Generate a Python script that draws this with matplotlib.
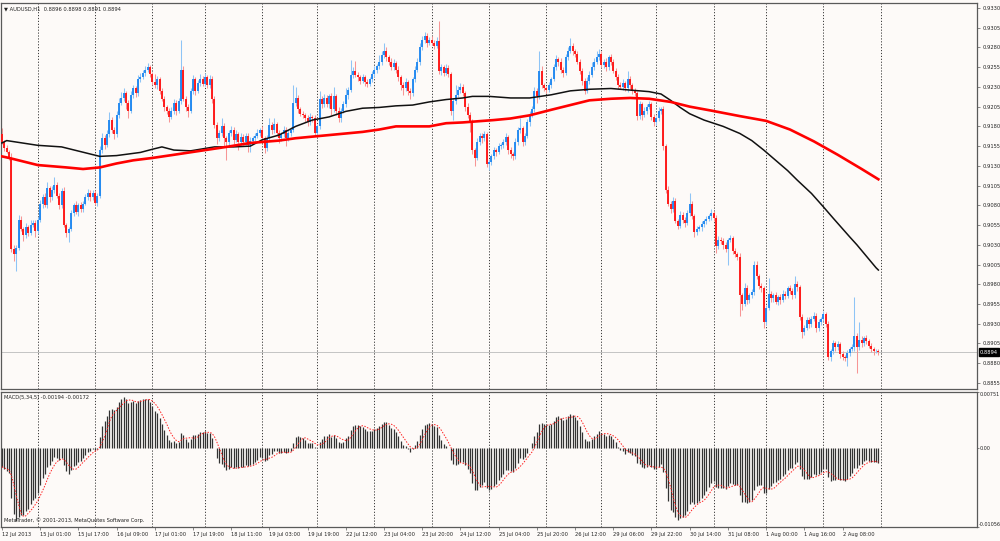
import numpy as np
import pandas as pd
import matplotlib.pyplot as plt
from matplotlib.transforms import blended_transform_factory

plt.rcParams['font.family'] = ['DejaVu Sans']

# AUDUSD H1 hourly closes (price x 10000), one list per trading day
c_jul12 = [9160, 9152, 9148, 9140, 9025, 9018, 9026, 9062, 9050, 9042, 9052, 9045, 9055, 9058, 9048]
c_jul15 = [9062, 9082, 9090, 9080, 9102, 9090, 9100, 9106, 9092, 9080, 9098, 9055, 9045, 9050, 9070, 9080,
           9072, 9080, 9075, 9082, 9090, 9096, 9090, 9095]
c_jul16 = [9083, 9092, 9150, 9165, 9157, 9170, 9188, 9176, 9170, 9195, 9210, 9216, 9222, 9210, 9200, 9220,
           9228, 9222, 9240, 9243, 9248, 9252, 9255, 9246]
c_jul17 = [9236, 9232, 9240, 9225, 9215, 9205, 9200, 9192, 9200, 9210, 9200, 9212, 9252, 9215, 9205, 9200,
           9225, 9240, 9225, 9235, 9240, 9234]
c_jul18 = [9242, 9232, 9240, 9215, 9182, 9165, 9172, 9180, 9165, 9160, 9172, 9176, 9163, 9170, 9160, 9167,
           9160, 9168, 9156, 9162, 9165, 9168, 9172, 9175]
c_jul19 = [9165, 9152, 9165, 9182, 9175, 9183, 9172, 9165, 9170, 9176, 9165, 9172, 9176, 9210, 9216, 9202,
           9196, 9194, 9190, 9185, 9192, 9190, 9172]
c_jul22 = [9180, 9215, 9208, 9216, 9208, 9218, 9202, 9218, 9200, 9190, 9200, 9208, 9220, 9226, 9245, 9250,
           9245, 9242, 9238, 9242, 9236, 9234, 9240, 9246]
c_jul23 = [9252, 9256, 9262, 9270, 9276, 9268, 9262, 9255, 9260, 9252, 9242, 9232, 9228, 9236, 9225, 9222,
           9240, 9252, 9262, 9280, 9290, 9294, 9286, 9290]
c_jul24 = [9286, 9282, 9288, 9250, 9255, 9248, 9254, 9246, 9200, 9212, 9220, 9226, 9230, 9222, 9205, 9195,
           9185, 9150, 9140, 9160, 9168, 9165, 9170, 9132]
c_jul25 = [9135, 9142, 9150, 9148, 9155, 9156, 9160, 9166, 9150, 9145, 9142, 9160, 9175, 9178, 9160, 9168,
           9185, 9195, 9202, 9225, 9218, 9250, 9232, 9228]
c_jul26 = [9226, 9232, 9240, 9255, 9265, 9262, 9252, 9248, 9268, 9276, 9282, 9275, 9272, 9262, 9250, 9238,
           9225, 9238, 9245, 9255, 9262, 9268, 9272]
c_jul29 = [9258, 9262, 9255, 9268, 9262, 9250, 9243, 9232, 9230, 9235, 9228, 9240, 9232, 9225, 9222, 9193,
           9208, 9195, 9200, 9205, 9208, 9192, 9186]
c_jul30 = [9190, 9200, 9202, 9155, 9100, 9082, 9075, 9085, 9060, 9054, 9068, 9062, 9058, 9070, 9082, 9066,
           9046, 9050, 9052, 9056, 9060, 9063, 9066, 9070]
c_jul31 = [9064, 9028, 9036, 9035, 9030, 9025, 9036, 9038, 9022, 9018, 9015, 8966, 8955, 8975, 8960, 8966,
           8970, 9005, 8990, 8978, 8975, 8932]
c_aug01 = [8950, 8968, 8962, 8966, 8958, 8964, 8960, 8968, 8965, 8975, 8972, 8966, 8980, 8976, 8938, 8920,
           8925, 8935, 8930, 8936, 8940, 8925, 8932, 8936]
c_aug02 = [8942, 8930, 8888, 8895, 8905, 8900, 8904, 8892, 8888, 8886, 8893, 8898, 8900, 8915, 8900, 8910,
           8905, 8912, 8908, 8902, 8898, 8896, 8896, 8894]
first_open = 9170

# upper / lower wicks beyond the candle body (pips)
u_jul12 = [8, 3, 4, 2, 6, 5, 4, 6, 4, 3, 5, 3, 6, 4, 3]
d_jul12 = [2, 3, 2, 3, 4, 8, 21, 3, 2, 7, 3, 4, 2, 3, 8]
u_jul15 = [3, 5, 4, 6, 8, 3, 5, 10, 4, 3, 4, 5, 2, 3, 4, 3, 5, 3, 4, 3, 4, 5, 3, 4]
d_jul15 = [4, 3, 5, 2, 4, 6, 3, 4, 3, 5, 4, 3, 5, 12, 3, 4, 3, 5, 4, 3, 2, 3, 4, 3]
u_jul16 = [4, 3, 5, 6, 4, 5, 10, 4, 3, 5, 6, 8, 6, 3, 4, 5, 4, 3, 5, 4, 3, 4, 5, 3]
d_jul16 = [3, 4, 3, 4, 6, 3, 4, 5, 6, 3, 4, 3, 4, 8, 10, 3, 4, 5, 3, 4, 3, 4, 3, 4]
u_jul17 = [3, 10, 4, 3, 4, 3, 2, 3, 4, 5, 3, 4, 38, 5, 4, 3, 4, 5, 3, 4, 6, 4]
d_jul17 = [4, 3, 5, 4, 3, 5, 4, 7, 3, 4, 6, 3, 4, 3, 5, 8, 3, 4, 5, 3, 4, 3]
u_jul18 = [6, 3, 5, 4, 3, 4, 3, 10, 4, 3, 4, 4, 3, 5, 3, 4, 3, 4, 3, 4, 3, 4, 5, 3]
d_jul18 = [3, 4, 3, 5, 4, 7, 3, 4, 10, 22, 3, 4, 5, 3, 10, 3, 4, 3, 9, 8, 4, 3, 3, 4]
u_jul19 = [5, 3, 4, 8, 4, 7, 3, 4, 3, 4, 3, 4, 3, 22, 14, 4, 3, 4, 3, 4, 5, 3, 4]
d_jul19 = [4, 6, 3, 4, 5, 3, 4, 6, 3, 4, 10, 3, 4, 3, 4, 5, 3, 4, 5, 4, 3, 4, 4]
u_jul22 = [3, 10, 4, 5, 4, 3, 4, 12, 3, 4, 3, 4, 9, 4, 19, 5, 13, 4, 3, 4, 3, 4, 3, 4]
d_jul22 = [4, 3, 5, 3, 4, 5, 8, 4, 5, 5, 4, 3, 4, 5, 3, 4, 3, 5, 4, 3, 5, 4, 3, 4]
u_jul23 = [4, 3, 8, 5, 10, 4, 3, 4, 5, 3, 4, 3, 4, 5, 3, 4, 3, 4, 5, 6, 4, 5, 4, 3]
d_jul23 = [3, 4, 3, 4, 3, 5, 4, 3, 4, 5, 4, 6, 8, 3, 5, 7, 3, 4, 3, 4, 3, 4, 5, 3]
u_jul24 = [4, 3, 5, 26, 4, 3, 5, 4, 3, 4, 12, 5, 5, 4, 3, 4, 3, 4, 3, 5, 4, 3, 4, 3]
d_jul24 = [3, 4, 3, 4, 5, 4, 3, 4, 5, 12, 4, 3, 4, 3, 5, 4, 12, 5, 10, 3, 4, 6, 3, 4]
u_jul25 = [4, 3, 4, 3, 4, 3, 4, 5, 3, 4, 3, 5, 4, 12, 3, 4, 4, 5, 4, 5, 4, 25, 6, 3]
d_jul25 = [7, 4, 3, 5, 3, 4, 3, 4, 5, 5, 4, 3, 4, 3, 5, 4, 3, 4, 3, 4, 8, 3, 4, 3]
u_jul26 = [3, 4, 3, 4, 5, 3, 4, 3, 4, 5, 10, 4, 3, 4, 3, 4, 3, 4, 5, 7, 5, 7, 6]
d_jul26 = [4, 3, 4, 3, 4, 5, 4, 5, 3, 4, 3, 5, 4, 3, 4, 5, 4, 3, 4, 3, 4, 3, 4]
u_jul29 = [4, 3, 4, 3, 4, 3, 4, 3, 4, 5, 3, 10, 4, 3, 4, 3, 4, 3, 4, 3, 4, 3, 4]
d_jul29 = [3, 4, 5, 3, 4, 3, 4, 5, 3, 4, 3, 4, 5, 4, 3, 5, 4, 7, 3, 4, 3, 4, 5]
u_jul30 = [3, 4, 3, 4, 3, 4, 3, 5, 4, 3, 5, 4, 3, 4, 13, 4, 3, 4, 3, 4, 3, 4, 3, 5]
d_jul30 = [4, 3, 4, 5, 4, 3, 5, 4, 3, 4, 3, 5, 6, 3, 4, 3, 6, 4, 3, 4, 3, 4, 3, 4]
u_jul31 = [3, 4, 5, 4, 3, 4, 3, 4, 3, 4, 3, 4, 3, 6, 4, 3, 4, 5, 4, 3, 4, 3]
d_jul31 = [4, 8, 3, 4, 5, 4, 20, 3, 4, 3, 4, 26, 7, 3, 5, 4, 3, 4, 3, 4, 5, 7]
u_aug01 = [4, 20, 4, 3, 4, 3, 4, 5, 4, 3, 4, 3, 10, 4, 3, 4, 3, 4, 3, 4, 5, 3, 4, 3]
d_aug01 = [4, 3, 5, 4, 3, 4, 5, 3, 4, 3, 4, 5, 3, 4, 3, 8, 4, 3, 5, 4, 3, 5, 4, 3]
u_aug02 = [4, 3, 4, 3, 4, 3, 4, 3, 4, 3, 4, 3, 4, 49, 3, 22, 4, 3, 4, 3, 4, 3, 2, 2]
d_aug02 = [3, 4, 4, 5, 3, 4, 3, 6, 4, 3, 10, 4, 3, 4, 33, 3, 4, 3, 4, 3, 4, 5, 3, 3]

# moving averages (bar index, price x 10000)
ma_black_bar = [0, 2, 15, 25, 33, 41, 48, 58, 63, 67, 72, 79, 85, 89, 97, 104, 109, 116, 123, 130, 137,
                144, 151, 158, 165, 172, 179, 186, 193, 197, 204, 213, 221, 230, 238, 246, 255, 263, 271,
                276, 280, 284, 288, 294, 302, 309, 314, 319, 324, 329, 333, 339, 344, 348, 355, 358, 366, 367]
ma_black_val = [9159, 9162, 9156, 9154, 9148, 9142, 9143, 9147, 9151, 9154, 9150, 9149, 9152, 9154, 9154,
                9155, 9163, 9169, 9180, 9188, 9192, 9199, 9203, 9204, 9206, 9207, 9211, 9214, 9216, 9218,
                9218, 9216, 9216, 9220, 9225, 9227, 9228, 9226, 9224, 9221, 9213, 9204, 9196, 9188, 9180,
                9171, 9162, 9150, 9137, 9124, 9112, 9095, 9078, 9064, 9040, 9030, 9001, 8998]
ma_red_bar = [0, 3, 15, 27, 34, 41, 48, 55, 63, 72, 83, 94, 104, 116, 123, 137, 151, 158, 165, 179, 186,
              193, 206, 213, 221, 230, 238, 246, 255, 263, 271, 280, 288, 297, 309, 320, 330, 340, 350, 360, 367]
ma_red_val = [9142, 9140, 9131, 9128, 9126, 9128, 9133, 9137, 9140, 9144, 9149, 9154, 9159, 9162, 9165,
              9169, 9173, 9176, 9180, 9180, 9184, 9185, 9188, 9190, 9194, 9201, 9207, 9213, 9215, 9216,
              9215, 9211, 9205, 9200, 9193, 9187, 9176, 9161, 9144, 9126, 9113]

# MACD(5,34,5): ema levels carried in from before the first visible bar, pane range, header values
macd_seed_fast = 0.9172
macd_seed_slow = 0.9195
macd_top = 0.00751
macd_bottom = -0.01056
macd_header = (-0.00194, -0.00172)

price_ticks = [9330, 9305, 9280, 9255, 9230, 9205, 9180, 9155, 9130, 9105, 9080, 9055, 9030, 9005,
               8980, 8955, 8930, 8905, 8880, 8855]
time_labels = ["12 Jul 2013", "15 Jul 01:00", "15 Jul 17:00", "16 Jul 09:00", "17 Jul 01:00",
               "17 Jul 19:00", "18 Jul 11:00", "19 Jul 03:00", "19 Jul 19:00", "22 Jul 12:00",
               "23 Jul 04:00", "23 Jul 20:00", "24 Jul 12:00", "25 Jul 04:00", "25 Jul 20:00",
               "26 Jul 12:00", "29 Jul 06:00", "29 Jul 22:00", "30 Jul 14:00", "31 Jul 08:00",
               "1 Aug 00:00", "1 Aug 16:00", "2 Aug 08:00"]

day_closes = [c_jul12, c_jul15, c_jul16, c_jul17, c_jul18, c_jul19, c_jul22, c_jul23, c_jul24,
              c_jul25, c_jul26, c_jul29, c_jul30, c_jul31, c_aug01, c_aug02]
day_up = [u_jul12, u_jul15, u_jul16, u_jul17, u_jul18, u_jul19, u_jul22, u_jul23, u_jul24,
          u_jul25, u_jul26, u_jul29, u_jul30, u_jul31, u_aug01, u_aug02]
day_dn = [d_jul12, d_jul15, d_jul16, d_jul17, d_jul18, d_jul19, d_jul22, d_jul23, d_jul24,
          d_jul25, d_jul26, d_jul29, d_jul30, d_jul31, d_aug01, d_aug02]

close = np.concatenate(day_closes) / 10000.0
wick_up = np.concatenate(day_up) / 10000.0
wick_dn = np.concatenate(day_dn) / 10000.0
opn = np.r_[first_open / 10000.0, close[:-1]]
high = np.maximum(opn, close) + wick_up
low = np.minimum(opn, close) - wick_dn
n = len(close)
idx = np.arange(n)
separators = np.cumsum([len(d) for d in day_closes])


def ema(values, period, seed):
    alpha = 2.0 / (period + 1)
    out = np.empty(len(values))
    prev = seed
    for k, v in enumerate(values):
        prev = prev + alpha * (v - prev)
        out[k] = prev
    return out


macd = ema(close, 5, macd_seed_fast) - ema(close, 34, macd_seed_slow)
signal = pd.Series(macd).rolling(5, min_periods=1).mean().values

bg = '#fdfaf8'
frame = '#5a5a5a'
txt = '#222222'
fs = 3.7

fig = plt.figure(figsize=(10, 5.41), dpi=100, facecolor=bg)
ax = fig.add_axes([0.001, 1 - 389 / 541, 0.976, 386 / 541], facecolor=bg)
axm = fig.add_axes([0.001, 1 - 527 / 541, 0.976, 135 / 541], facecolor=bg)

xlim = (-0.38, 408.3)

# candles
bull = close >= opn
bear = ~bull
ax.vlines(idx[bull], low[bull], high[bull], color='#8ec4f6', lw=0.75, zorder=2)
ax.vlines(idx[bear], low[bear], high[bear], color='#f79595', lw=0.75, zorder=2)
ax.vlines(idx[bull], opn[bull], close[bull], color='#2088f0', lw=1.35, zorder=3)
ax.vlines(idx[bear], opn[bear], close[bear], color='#ff1414', lw=1.35, zorder=3)

# moving averages
ax.plot(ma_black_bar, np.array(ma_black_val) / 10000, color='#111111', lw=1.1, zorder=4)
ax.plot(ma_red_bar, np.array(ma_red_val) / 10000, color='#ff0000', lw=1.9, zorder=4)

# bid line
ax.axhline(close[-1], color='#c4c4c4', lw=0.7, zorder=1)

for a in (ax, axm):
    for s in separators:
        a.axvline(s, color='#3a3a3a', lw=0.7, ls=(0, (1.2, 1.8)), zorder=1)
    a.set_xlim(*xlim)
    for sp in a.spines.values():
        sp.set_color(frame)
        sp.set_linewidth(0.9)
    a.yaxis.tick_right()

ax.tick_params(axis='y', length=2.5, width=0.5, colors=frame, labelcolor=txt, labelsize=fs, pad=1.5)
axm.tick_params(axis='y', length=1.2, width=0.5, colors=frame, labelcolor=txt, labelsize=3.5, pad=0.4)

ax.set_ylim(0.88473, 0.93363)
ax.set_yticks(np.array(price_ticks) / 10000)
ax.set_yticklabels([f"{p / 10000:.4f}" for p in price_ticks])
ax.set_xticks([])

trans = blended_transform_factory(ax.transAxes, ax.transData)
ax.text(1.003, close[-1], f"{close[-1]:.4f}", transform=trans, fontsize=fs, color='white',
        va='center', ha='left', zorder=6,
        bbox=dict(boxstyle='square,pad=0.25', fc='black', ec='black'))

ax.text(0.003, 0.992, "\u25bc AUDUSD,H1  " + " ".join(f"{v:.4f}" for v in
        (opn[-1], high[-1], low[-1], close[-1])), transform=ax.transAxes,
        fontsize=fs, color=txt, va='top', ha='left')

# MACD pane
axm.vlines(idx, 0, macd, color='#333333', lw=0.9, zorder=2)
axm.plot(idx, signal, color='#ff2020', lw=0.7, ls=(0, (1.5, 1.5)), zorder=3)
axm.set_ylim(macd_bottom, macd_top)
axm.set_yticks([macd_top, 0.0, macd_bottom])
axm.set_yticklabels([f"{macd_top:.5f}", "0.00", f"{macd_bottom:.5f}"])
ylab = axm.get_yticklabels()
ylab[0].set_va('top')
ylab[2].set_va('bottom')
axm.set_xticks(idx[::16][:len(time_labels)])
axm.set_xticklabels(time_labels, ha='left')
axm.tick_params(axis='x', length=2.5, width=0.5, colors=frame, labelcolor=txt, labelsize=fs, pad=1.0)

axm.text(0.003, 0.975, f"MACD(5,34,5) {macd_header[0]:.5f} {macd_header[1]:.5f}", transform=axm.transAxes,
         fontsize=fs, color=txt, va='top', ha='left')
axm.text(0.003, 0.03, "MetaTrader, \u00a9 2001-2013, MetaQuotes Software Corp.", transform=axm.transAxes,
         fontsize=fs, color=txt, va='bottom', ha='left')

fig.savefig('out.png', dpi=100, facecolor=bg)
